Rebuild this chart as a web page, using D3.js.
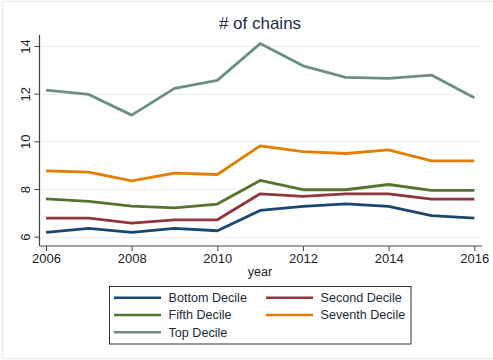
<!DOCTYPE html>
<html>
<head>
<meta charset="utf-8">
<script src="https://cdn.jsdelivr.net/npm/d3@7"></script>
<style>
  html, body { margin: 0; padding: 0; background: #fff; }
  svg { display: block; font-family: "Liberation Sans", Arial, sans-serif; }
</style>
</head>
<body>
<svg id="chart" width="493" height="360"></svg>
<script>
// Average number of chains per year, by decile
const years = [2006, 2007, 2008, 2009, 2010, 2011, 2012, 2013, 2014, 2015, 2016];
const bottomDecile  = [6.18, 6.35, 6.18, 6.35, 6.25, 7.10, 7.27, 7.38, 7.27, 6.88, 6.78];
const secondDecile  = [6.78, 6.78, 6.57, 6.71, 6.71, 7.80, 7.69, 7.80, 7.80, 7.58, 7.58];
const fifthDecile   = [7.59, 7.48, 7.28, 7.21, 7.37, 8.36, 7.97, 7.97, 8.19, 7.94, 7.94];
const seventhDecile = [8.76, 8.71, 8.34, 8.67, 8.61, 9.81, 9.57, 9.49, 9.64, 9.18, 9.18];
const topDecile     = [12.15, 11.97, 11.10, 12.22, 12.56, 14.10, 13.17, 12.68, 12.64, 12.78, 11.83];

const seriesNames = ["Bottom Decile", "Second Decile", "Fifth Decile", "Seventh Decile", "Top Decile"];
const seriesValues = [bottomDecile, secondDecile, fifthDecile, seventhDecile, topDecile];
const seriesColors = ["#1a476f", "#90353b", "#55752f", "#e37e00", "#6e8e84"];

const xTicks = [2006, 2008, 2010, 2012, 2014, 2016];
const yTicks = [6, 8, 10, 12, 14];

const svg = d3.select("#chart");

// faint outer frame
svg.append("path")
  .attr("d", "M493,1.5 H2.5 V358.5 H493")
  .attr("fill", "none")
  .attr("stroke", "#e6f0f0")
  .attr("stroke-width", 1.5);

const x = d3.scaleLinear().domain([2006, 2016]).range([46, 474.3]);
const y = d3.scaleLinear().domain([6, 14]).range([236.7, 46]);

const plotLeft = 39.5, plotRight = 482, plotTop = 35, plotBottom = 246;

// horizontal grid lines
svg.append("g")
  .selectAll("line")
  .data(yTicks)
  .join("line")
  .attr("x1", plotLeft)
  .attr("x2", plotRight)
  .attr("y1", d => Math.round(y(d)) + 0.5)
  .attr("y2", d => Math.round(y(d)) + 0.5)
  .attr("stroke", "#e8f1f1")
  .attr("stroke-width", 1.2);

// series lines
const line = d3.line()
  .x((d, i) => x(years[i]))
  .y(d => y(d));

svg.append("g")
  .selectAll("path")
  .data(seriesValues)
  .join("path")
  .attr("d", d => line(d))
  .attr("fill", "none")
  .attr("stroke", (d, i) => seriesColors[i])
  .attr("stroke-width", 2.8)
  .attr("stroke-linejoin", "round");

// y axis
const yAxis = d3.axisLeft(y).tickValues(yTicks).tickSize(5).tickPadding(4).tickFormat(d3.format("d"));
const gy = svg.append("g").attr("transform", `translate(${plotLeft},0)`).call(yAxis);
gy.select(".domain").attr("d", `M0,${plotTop}V${plotBottom}`).attr("stroke", "#444").attr("stroke-width", 1.2);
gy.selectAll(".tick line").attr("stroke", "#444");
gy.selectAll(".tick text")
  .attr("font-size", 13)
  .attr("fill", "#222")
  .attr("x", 0)
  .attr("dy", 0)
  .attr("text-anchor", "middle")
  .attr("transform", "translate(-13,0) rotate(-90)")
  .attr("dominant-baseline", "middle");

// x axis
const xAxis = d3.axisBottom(x).tickValues(xTicks).tickSize(5).tickPadding(3).tickFormat(d3.format("d"));
const gx = svg.append("g").attr("transform", `translate(0,${plotBottom})`).call(xAxis);
gx.select(".domain").attr("d", `M${plotLeft},0H${plotRight}`).attr("stroke", "#444").attr("stroke-width", 1.2);
gx.selectAll(".tick line").attr("stroke", "#444");
gx.selectAll(".tick text").attr("font-size", 13).attr("fill", "#222");

// axis title
svg.append("text")
  .attr("x", 260)
  .attr("y", 276)
  .attr("text-anchor", "middle")
  .attr("font-size", 12.5)
  .attr("fill", "#222")
  .text("year");

// chart title
svg.append("text")
  .attr("x", 260)
  .attr("y", 29)
  .attr("text-anchor", "middle")
  .attr("font-size", 17)
  .attr("fill", "#1e2c48")
  .text("# of chains");

// legend
const legend = svg.append("g");
legend.append("rect")
  .attr("x", 109.5).attr("y", 286.5)
  .attr("width", 301.5).attr("height", 57.5)
  .attr("fill", "#fff")
  .attr("stroke", "#333")
  .attr("stroke-width", 1);

const colX = [114, 266];
const rowY = [297.7, 315, 332.3];
const items = legend.selectAll("g.item")
  .data(seriesNames)
  .join("g")
  .attr("class", "item")
  .attr("transform", (d, i) => `translate(${colX[i % 2]},${rowY[Math.floor(i / 2)]})`);

items.append("line")
  .attr("x1", 0).attr("x2", 47)
  .attr("y1", 0).attr("y2", 0)
  .attr("stroke", (d, i) => seriesColors[i])
  .attr("stroke-width", 2.6);

items.append("text")
  .attr("x", 54.5)
  .attr("y", 0)
  .attr("dy", "0.35em")
  .attr("font-size", 12.6)
  .attr("fill", "#1e2c3a")
  .text(d => d);
</script>
</body>
</html>
